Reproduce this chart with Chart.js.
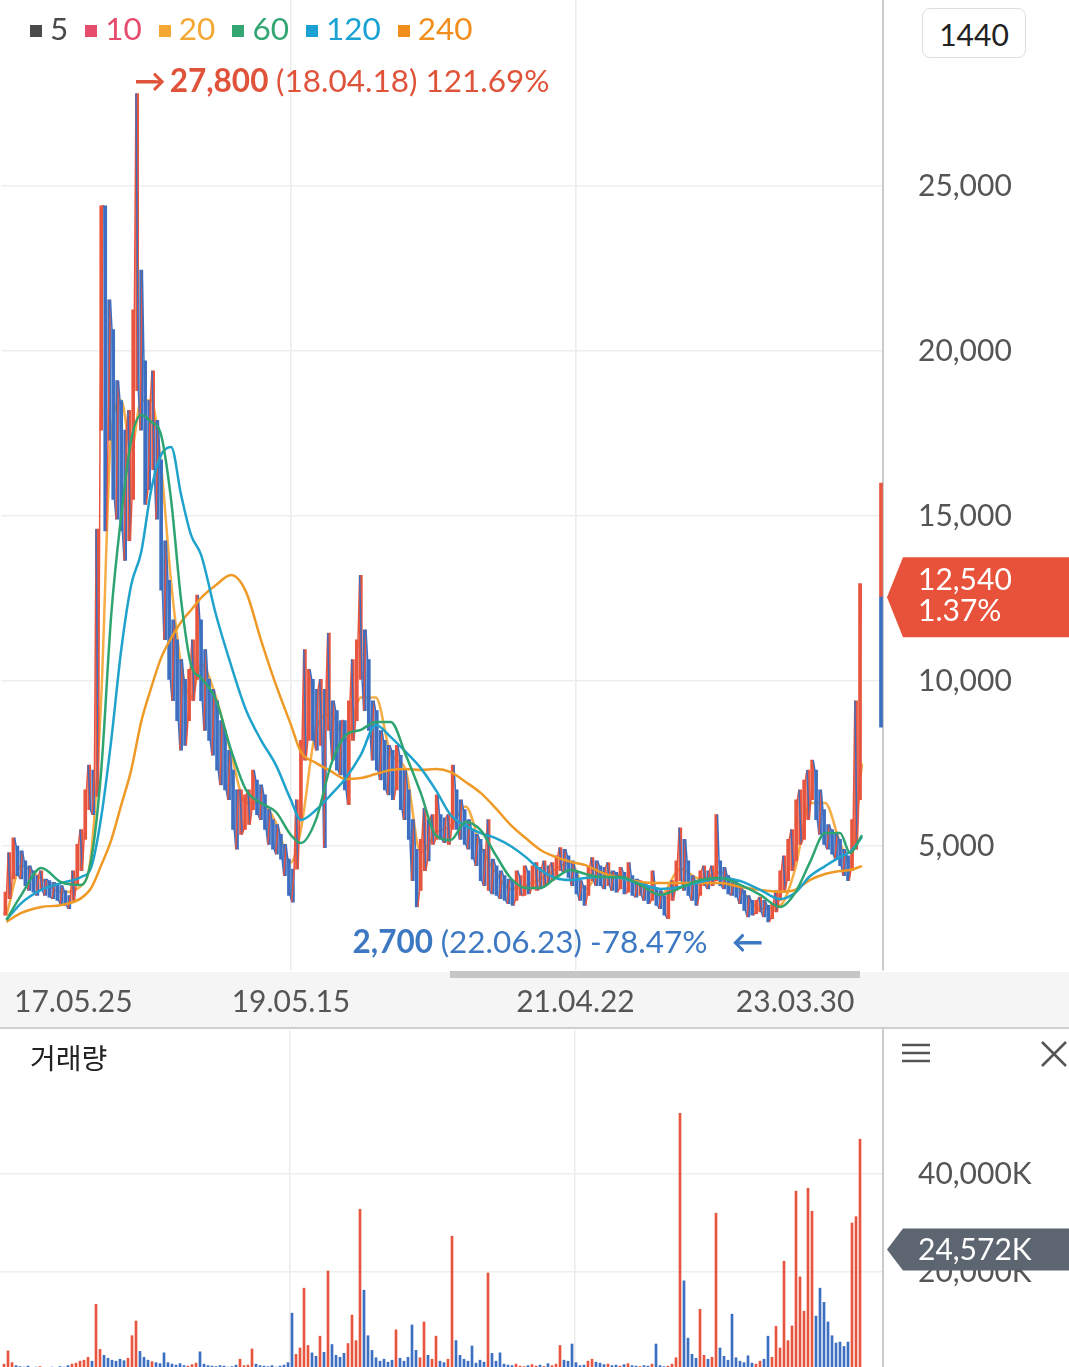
<!DOCTYPE html>
<html lang="ko">
<head>
  <meta charset="UTF-8">
  <title>주가 차트</title>
  <script src="https://cdn.jsdelivr.net/npm/chart.js"></script>
  <style>
    html, body { margin: 0; padding: 0; overflow: hidden; background: #fff; }
    #wrap { position: relative; width: 1069px; height: 1367px; overflow: hidden; font-family: Lato, sans-serif; }
    .abs { position: absolute; }
    #band { left: 0; top: 972px; width: 1069px; height: 56px; background: #f5f5f5; }
    #scroll { left: 450px; top: 971px; width: 410px; height: 7px; background: #c6c6c6; }
    #sep { left: 0; top: 1027px; width: 1069px; height: 2px; background: #cfcfcf; }
    /* the y axis adds 53px of label padding above and below the plot, so the boxes reach past it */
    #priceBox { left: 0; top: -53px; width: 1069px; height: 1081px; }
    #volBox { left: 0; top: 977px; width: 1069px; height: 446px; }
    #legend { left: 30px; top: 10px; display: flex; align-items: center; font-size: 31.5px; line-height: 36px; }
    #legend span.item { display: inline-flex; align-items: center; margin-right: 17px; }
    #legend i { display: inline-block; width: 12px; height: 12px; margin-right: 8px; margin-top: 6px; }
    #btn { left: 922px; top: 8px; width: 102px; height: 48px; border: 1.5px solid #dedede; border-radius: 8px;
           font-size: 30px; color: #222; text-align: center; line-height: 50px; background: #fff; }
    #volTitle { left: 30px; top: 1037px; font-family: "Noto Sans CJK KR", sans-serif; font-size: 28px; color: #222; }
  </style>
</head>
<body>
<div id="wrap">
  <div id="band" class="abs"></div>
  <div id="priceBox" class="abs"><canvas id="priceChart"></canvas></div>
  <div id="scroll" class="abs"></div>
  <div id="sep" class="abs"></div>
  <div id="volBox" class="abs"><canvas id="volumeChart"></canvas></div>
  <div id="legend" class="abs"></div>
  <div id="btn" class="abs">1440</div>
  <div id="volTitle" class="abs">거래량</div>
  <svg class="abs" style="left:900px;top:1040px" width="32" height="28">
    <g stroke="#555" stroke-width="2.5"><line x1="2" y1="5" x2="30" y2="5"/><line x1="2" y1="13" x2="30" y2="13"/><line x1="2" y1="21" x2="30" y2="21"/></g>
  </svg>
  <svg class="abs" style="left:1039px;top:1039px" width="30" height="30">
    <g stroke="#555" stroke-width="2.5"><line x1="3" y1="3" x2="27" y2="27"/><line x1="27" y1="3" x2="3" y2="27"/></g>
  </svg>
</div>
<script>
  // moving average legend
  const maNames = ['5', '10', '20', '60', '120', '240'];
  const maColors = ['#4a4a4a', '#e64c6c', '#f5a733', '#33a673', '#1aa3d2', '#f28e1c'];

  // x axis date ticks (index positions) and their text
  const dateTickIdx = [18, 72.5, 143.75, 198.75];
  const dateTickText = ['17.05.25', '19.05.15', '21.04.22', '23.03.30'];
  const gridIdx = [72.5, 143.75];

  const priceTicks = [5000, 10000, 15000, 20000, 25000];
  const volumeTicks = [20000, 40000];

  // sampled daily candles (index 1..215): low and high
  const priceLow = [
    2900, 3400, 4000, 4100, 4000, 3800, 3650, 3600, 3500, 3650,
    3500, 3450, 3400, 3350, 3250, 3200, 3100, 3350, 3800, 4250,
    5200, 6100, 5950, 6500, 17600, 14550, 17300, 15500, 14900, 14550,
    13650, 14250, 15500, 18800, 17600, 15350, 15800, 16400, 14900, 12750,
    11250, 10050, 9400, 8800, 7900, 8050, 8800, 9400, 10050, 9400,
    8500, 8200, 7750, 7300, 6850, 6700, 6400, 5500, 4900, 5350,
    5500, 5650, 6100, 5950, 5800, 5500, 5050, 4900, 4750, 4600,
    4100, 3500, 3300, 4300, 5800, 7600, 8200, 8200, 7900, 8050,
    4950, 8500, 7600, 7300, 7150, 6700, 6250, 8200, 8800, 10050,
    9100, 8500, 7600, 7300, 7000, 6700, 6550, 6400, 6700, 6100,
    5800, 5200, 3950, 3150, 3650, 4250, 4550, 5050, 5200, 5200,
    5100, 5050, 5500, 5500, 5200, 5050, 4900, 4600, 4400, 3950,
    3800, 3650, 3550, 3500, 3400, 3350, 3250, 3200, 3350, 3500,
    3500, 3550, 3700, 3650, 3700, 3800, 3900, 3950, 4100, 4250,
    4200, 4050, 3800, 3550, 3350, 3200, 3500, 3950, 3800, 3800,
    3700, 3800, 3650, 3600, 3700, 3550, 3600, 3500, 3450, 3500,
    3350, 3250, 3350, 3200, 3100, 2900, 2800, 3350, 3650, 3950,
    3650, 3500, 3350, 3200, 3500, 3800, 3700, 3800, 3950, 3800,
    3700, 3550, 3500, 3450, 3250, 3050, 2850, 2900, 2950, 3000,
    2850, 2700, 2800, 3000, 3350, 3650, 3950, 4250, 4550, 5050,
    5200, 5800, 6400, 5800, 5350, 5050, 4900, 4750, 4600, 4400,
    4100, 3950, 4250, 4900, 6400
  ];
  const priceHigh = [
    3600, 4800, 5250, 5000, 4850, 4550, 4400, 4250, 4100, 4250,
    4000, 3950, 3900, 3850, 3800, 3650, 3500, 4250, 5050, 5500,
    6700, 7450, 7300, 14600, 24400, 24400, 21550, 20650, 19100, 18500,
    17600, 18200, 21250, 27800, 22450, 19700, 18500, 19400, 17900, 16700,
    14250, 13050, 11850, 11250, 10650, 10050, 10350, 11250, 12600, 11850,
    10950, 10050, 9750, 9400, 8800, 8500, 7900, 7300, 6700, 6700,
    6550, 6700, 7300, 7000, 6850, 6550, 6100, 5800, 5650, 5350,
    5050, 4600, 4300, 6400, 8200, 10950, 10350, 10050, 9750, 10050,
    9750, 11450, 9400, 9100, 8800, 8800, 9400, 10650, 11250, 13200,
    11550, 10650, 9400, 9100, 8500, 8200, 8050, 7900, 8050, 7750,
    7300, 6700, 5800, 4900, 5200, 6150, 5800, 5950, 6550, 5950,
    5850, 5950, 7450, 6700, 6400, 6100, 5800, 5500, 5350, 5200,
    4900, 5800, 4600, 4400, 4250, 4100, 4000, 3950, 4250, 4100,
    4400, 4250, 4400, 4500, 4350, 4550, 4400, 4500, 4700, 4950,
    4900, 4700, 4550, 4250, 3950, 3800, 4350, 4650, 4550, 4400,
    4350, 4500, 4250, 4200, 4350, 4200, 4500, 4100, 4000, 3950,
    3900, 3800, 4250, 3750, 3650, 3500, 3650, 3950, 4550, 5550,
    5200, 4550, 4100, 3950, 4250, 4400, 4250, 4400, 5950, 4550,
    4350, 4100, 4000, 3950, 3800, 3650, 3500, 3350, 3350, 3450,
    3350, 3200, 3250, 3650, 4250, 4700, 5200, 5500, 6400, 6700,
    7000, 7300, 7600, 7300, 6700, 6100, 5650, 5500, 5350, 5200,
    4900, 4700, 5800, 9400, 12950
  ];

  // volume in thousands of shares, same index
  const volume = [
    1200, 3900, 1500, 900, 700, 600, 800, 500, 600, 700,
    500, 400, 600, 500, 700, 600, 900, 1200, 1400, 1800,
    2000, 2600, 1800, 13400, 4200, 3000, 2400, 2000, 1800, 2200,
    1900, 2400, 7000, 10000, 3800, 2600, 2000, 1700, 1500, 1300,
    3500, 1500, 1200, 1000, 1300, 900, 800, 1100, 1400, 3700,
    1200, 900, 800, 700, 900, 800, 600, 700, 1000, 2200,
    900, 1000, 4300, 1200, 900, 800, 700, 900, 600, 800,
    1000, 1500, 11600, 3200, 4500, 16700, 5000, 3500, 2800, 6900,
    3600, 20200, 5200, 3000, 2600, 3400, 5400, 11200, 6000, 32800,
    16300, 7000, 4000, 2500, 1800, 2200, 1600, 2000, 8200, 2400,
    1800, 2600, 9200, 4000, 2500, 9800, 3000, 2200, 6900, 1800,
    1500, 2200, 27300, 6000, 3000, 2200, 1800, 4900, 1400, 2000,
    1600, 19800, 3400, 1800, 3500, 1200, 1000, 900, 1200, 800,
    700, 900, 1100, 800, 1000, 700, 1300, 900, 1200, 5000,
    2000, 1800, 5300, 1500, 900, 1000, 1800, 2200, 1600, 1400,
    1100, 1200, 900, 1000, 800, 1100, 1300, 900, 800, 700,
    900, 800, 1200, 5300, 900, 700, 800, 1200, 2500, 52400,
    18200, 6500, 3200, 2400, 12400, 3000, 2200, 2600, 32000, 4500,
    2800, 2000, 11400, 2500, 1800, 1500, 2900, 1400, 1200, 1800,
    2200, 6900, 2600, 8900, 4500, 22200, 6000, 9000, 36500, 19000,
    12000, 37100, 32400, 11000, 16700, 13800, 9800, 7000, 5500, 5700,
    4800, 5700, 30000, 31300, 47100
  ];

  // moving averages read at these index positions
  const maIdx = [1.25, 5, 10, 15, 20, 22.5, 25, 27.5, 30, 32.5,
    35, 37.5, 40, 42.5, 45, 47.5, 50, 53.75, 57.5, 61.25,
    65, 68.75, 72.5, 75, 78.75, 82.5, 86.25, 90, 93.75, 97.5,
    101.25, 105, 108.75, 112.5, 116.25, 120, 123.75, 127.5, 131.25, 135,
    138.75, 142.5, 146.25, 150, 155, 160, 165, 170, 175, 180,
    185, 190, 195, 198.75, 202.5, 206.25, 210, 212.5, 215.5];
  const ma20 = [2900, 4400, 4000, 3600, 3800, 4800, 9500, 17500, 18500, 17000,
    18500, 18500, 16500, 13000, 10500, 9500, 10500, 9500, 7800, 6300,
    6300, 5700, 4500, 5500, 8500, 9000, 8200, 9500, 9500, 7800,
    7300, 4800, 5400, 5600, 6200, 5000, 4200, 3700, 3800, 4000,
    4300, 4500, 3700, 4200, 4100, 3800, 3500, 4300, 4000, 4200,
    3700, 3100, 3200, 4300, 6300, 6300, 5100, 4500, 7500];
  const ma60 = [2760, 3520, 4330, 3900, 3820, 4600, 7300, 12000, 15000, 17300,
    18060, 17850, 17450, 15480, 12450, 10480, 10090, 9420, 7910, 6700,
    6300, 6030, 5330, 5090, 5790, 7450, 8360, 8520, 8760, 8760,
    7760, 6610, 5330, 5180, 5730, 5480, 4730, 4030, 3730, 3730,
    4030, 4270, 4150, 4060, 4060, 3820, 3520, 3730, 3970, 4030,
    3820, 3520, 3150, 3580, 4520, 5390, 5390, 4790, 5330];
  const ma120 = [2760, 3270, 3670, 3880, 4060, 4360, 5880, 8200, 10940, 12910,
    13900, 15790, 16850, 17090, 15640, 14420, 13820, 12000, 10480, 9120,
    8210, 7450, 6390, 5790, 6090, 6550, 7060, 7760, 8670, 8300,
    7850, 7360, 6700, 5940, 5610, 5390, 5240, 5000, 4670, 4270,
    4030, 3970, 4030, 4060, 4030, 3850, 3700, 3760, 3910, 4030,
    3940, 3670, 3390, 3580, 4090, 4390, 4670, 4820, 5270];
  const ma240 = [2700, 2970, 3150, 3210, 3420, 3730, 4420, 5180, 6240, 7300,
    8760, 9790, 10700, 11300, 11790, 12150, 12520, 12910, 13210, 12700,
    11240, 9880, 8670, 7850, 7520, 7270, 7030, 7060, 7180, 7300,
    7330, 7300, 7330, 7240, 6940, 6610, 6150, 5640, 5240, 4880,
    4670, 4520, 4420, 4210, 4030, 3910, 3880, 3880, 3880, 3880,
    3760, 3670, 3610, 3670, 3970, 4150, 4240, 4270, 4390];

  // today's candle: low, current, high
  const todayIdx = 220.25;
  const todayLow = 8600, currentPrice = 12540, todayHigh = 16000;
  const currentChange = '1.37%';
  const currentVolume = 24572;
  const maxNote = ['(18.04.18)', '121.69%'];
  const minNote = ['(22.06.23)', '-78.47%'];

  const RED = '#e8553e', BLUE = '#3d6fc1';
  const fmt = v => v.toLocaleString('en-US');

  // legend
  const legend = document.getElementById('legend');
  maNames.forEach((n, k) => {
    const s = document.createElement('span');
    s.className = 'item';
    s.innerHTML = '<i style="background:' + maColors[k] + '"></i><span style="color:' + maColors[k] + '">' + n + '</span>';
    legend.appendChild(s);
  });

  const mids = priceLow.map((l, k) => (l + priceHigh[k]) / 2);
  const barColors = mids.map((m, k) => (k === 0 || m >= mids[k - 1]) ? RED : BLUE);
  // wick path: runs low->high and high->low in turn through every sampled candle
  const wick = [];
  priceLow.forEach((l, k) => {
    const h = priceHigh[k];
    wick.push({ x: k + 0.7, y: k % 2 ? h : l }, { x: k + 1.3, y: k % 2 ? l : h });
  });
  const maLine = (vals, color, order) => ({
    type: 'line', data: vals.map((v, k) => ({ x: maIdx[k], y: v })),
    borderColor: color, borderWidth: 2.5, pointRadius: 0, cubicInterpolationMode: 'monotone', order: order
  });

  Chart.defaults.font.family = 'Lato';
  Chart.defaults.animation = false;

  const xScale = (showTicks) => ({
    type: 'linear', min: 0, max: 220.75, offset: false,
    grid: { offset: false, drawTicks: false, lineWidth: 1.5,
      color: c => gridIdx.includes(c.tick && c.tick.value) ? '#ececec' : 'rgba(0,0,0,0)' },
    border: { display: false },
    afterBuildTicks: s => { s.ticks = dateTickIdx.map(v => ({ value: v })); },
    afterFit: s => { s.height = showTicks ? 58 : 0; },
    ticks: { display: showTicks, autoSkip: false, maxRotation: 0, padding: 14, color: '#555', font: { size: 30 },
      callback: v => dateTickText[dateTickIdx.indexOf(v)] }
  });

  // badges and high/low notes
  const priceOverlay = {
    id: 'priceOverlay',
    afterDraw(chart) {
      const { ctx, chartArea, scales: { x, y } } = chart;
      ctx.save();
      ctx.textBaseline = 'middle';
      // highest
      let hi = 0;
      priceHigh.forEach((v, k) => { if (v > priceHigh[hi]) hi = k; });
      let px = x.getPixelForValue(hi + 1) - 3, py = y.getPixelForValue(priceHigh[hi]) - 12;
      ctx.fillStyle = '#e0533b';
      const parts1 = [['bold 31.5px Lato', '→'], ['bold 31.5px Lato', fmt(priceHigh[hi]) + ' '], ['31.5px Lato', maxNote[0] + ' ' + maxNote[1]]];
      parts1.forEach(([f, t]) => { ctx.font = f; ctx.fillText(t, px, py); px += ctx.measureText(t).width + (t === '→' ? 4 : 0); });
      // lowest
      let lo = 0;
      priceLow.forEach((v, k) => { if (v < priceLow[lo]) lo = k; });
      const parts2 = [['bold 31.5px Lato', fmt(priceLow[lo]) + ' '], ['31.5px Lato', minNote[0] + ' ' + minNote[1] + '   '], ['bold 31.5px Lato', '←']];
      let total = 0;
      parts2.forEach(([f, t]) => { ctx.font = f; total += ctx.measureText(t).width; });
      px = x.getPixelForValue(lo + 1) - 5 - total;
      py = y.getPixelForValue(priceLow[lo]) + 21;
      ctx.fillStyle = '#3d78c2';
      parts2.forEach(([f, t]) => { ctx.font = f; ctx.fillText(t, px, py); px += ctx.measureText(t).width; });
      // current price badge
      const yc = y.getPixelForValue(currentPrice), x0 = chartArea.right + 4;
      ctx.fillStyle = '#e8523a';
      ctx.beginPath();
      ctx.moveTo(x0, yc); ctx.lineTo(x0 + 16, yc - 40); ctx.lineTo(chart.width, yc - 40);
      ctx.lineTo(chart.width, yc + 40); ctx.lineTo(x0 + 16, yc + 40); ctx.closePath(); ctx.fill();
      ctx.fillStyle = '#fff';
      ctx.font = '30px Lato';
      ctx.fillText(fmt(currentPrice), chartArea.right + 35, yc - 17);
      ctx.fillText(currentChange, chartArea.right + 35, yc + 14);
      ctx.restore();
    }
  };

  new Chart(document.getElementById('priceChart'), {
    type: 'bar',
    data: {
      datasets: [
        maLine(ma20, '#f7ad45', 3),
        maLine(ma60, '#2ea570', 0),
        maLine(ma120, '#1fa2cc', 0),
        maLine(ma240, '#ef9a26', 0),
        { type: 'line', data: wick, borderWidth: 1.5, pointRadius: 0, tension: 0, order: 1,
          segment: { borderColor: c => c.p1.parsed.y >= c.p0.parsed.y ? RED : BLUE } },
        { type: 'bar', data: priceLow.map((l, k) => ({ x: k + 1, y: [l, priceHigh[k]] })),
          backgroundColor: barColors, barThickness: 3, grouped: false, order: 2 },
        { type: 'bar', data: [{ x: todayIdx, y: [currentPrice, todayHigh] }, { x: todayIdx, y: [todayLow, currentPrice] }],
          backgroundColor: [RED, BLUE], barThickness: 3, grouped: false, order: 2 }
      ]
    },
    options: {
      responsive: true, maintainAspectRatio: false,
      layout: { padding: 0 },
      plugins: { legend: { display: false }, tooltip: { enabled: false } },
      scales: {
        x: xScale(true),
        y: {
          position: 'right', min: 1242, max: 30636,
          grid: { color: '#eeeeee', lineWidth: 1.5, drawTicks: false },
          border: { display: true, color: '#cacaca', width: 2 },
          afterBuildTicks: s => { s.ticks = priceTicks.map(v => ({ value: v })); },
          afterFit: s => { s.width = 186; },
          ticks: { padding: 35, color: '#555', font: { size: 30 }, callback: v => fmt(v) }
        }
      }
    },
    plugins: [priceOverlay]
  });

  const volOverlay = {
    id: 'volOverlay',
    afterDraw(chart) {
      const { ctx, chartArea, scales: { y } } = chart;
      const yc = y.getPixelForValue(currentVolume), x0 = chartArea.right + 4;
      ctx.save();
      ctx.fillStyle = '#5d6670';
      ctx.beginPath();
      ctx.moveTo(x0, yc); ctx.lineTo(x0 + 16, yc - 21); ctx.lineTo(chart.width, yc - 21);
      ctx.lineTo(chart.width, yc + 21); ctx.lineTo(x0 + 16, yc + 21); ctx.closePath(); ctx.fill();
      ctx.fillStyle = '#fff';
      ctx.font = '30px Lato';
      ctx.textBaseline = 'middle';
      ctx.fillText(fmt(currentVolume) + 'K', chartArea.right + 35, yc + 1);
      ctx.restore();
    }
  };

  new Chart(document.getElementById('volumeChart'), {
    type: 'bar',
    data: {
      datasets: [{
        data: volume.map((v, k) => ({ x: k + 1, y: v })),
        backgroundColor: barColors, barThickness: 2, grouped: false
      }]
    },
    options: {
      responsive: true, maintainAspectRatio: false,
      layout: { padding: 0 },
      plugins: { legend: { display: false }, tooltip: { enabled: false } },
      scales: {
        x: xScale(false),
        y: {
          position: 'right', min: 0, max: 69388,
          grid: { color: '#eeeeee', lineWidth: 1.5, drawTicks: false },
          border: { display: true, color: '#cacaca', width: 2 },
          afterBuildTicks: s => { s.ticks = volumeTicks.map(v => ({ value: v })); },
          afterFit: s => { s.width = 186; },
          ticks: { padding: 35, color: '#555', font: { size: 30 }, callback: v => fmt(v) + 'K' }
        }
      }
    },
    plugins: [volOverlay]
  });
</script>
</body>
</html>
